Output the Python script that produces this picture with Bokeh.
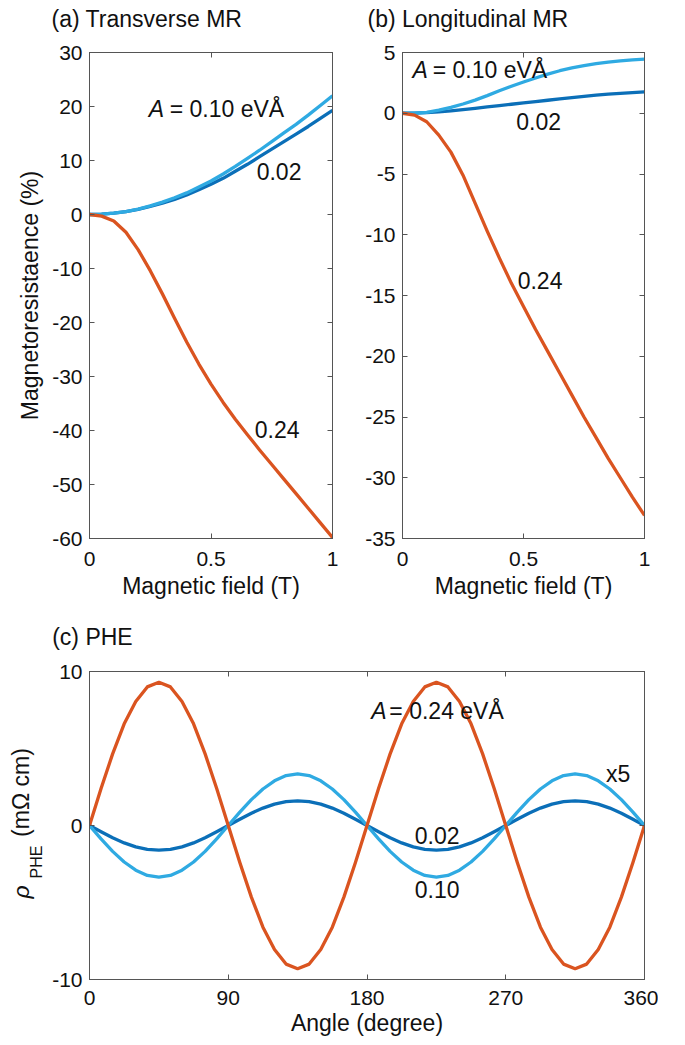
from bokeh.plotting import figure
from bokeh.models import Range1d, LinearAxis, FixedTicker, Label, CustomJSTickFormatter
from bokeh.layouts import column, row
from bokeh.embed import file_html
from bokeh.resources import INLINE

# ---------------- data ----------------
field = [0, 0.05, 0.1, 0.15, 0.2, 0.25, 0.3, 0.35, 0.4, 0.45, 0.5,
         0.55, 0.6, 0.65, 0.7, 0.75, 0.8, 0.85, 0.9, 0.95, 1.0]

# (a) transverse MR (%)
tmr_002 = [0, 0.05, 0.25, 0.55, 0.95, 1.5, 2.1, 2.8, 3.6, 4.6, 5.6,
           6.7, 8.0, 9.3, 10.7, 12.1, 13.5, 14.9, 16.3, 17.8, 19.3]
tmr_010 = [0, 0.05, 0.25, 0.55, 1.0, 1.6, 2.3, 3.1, 4.0, 5.1, 6.2,
           7.5, 8.9, 10.4, 11.9, 13.5, 15.1, 16.7, 18.4, 20.2, 22.0]
tmr_024 = [0, -0.3, -1.2, -3.3, -6.5, -10.4, -14.7, -19.2, -23.6, -27.7, -31.4,
           -34.8, -37.9, -40.8, -43.6, -46.3, -49.0, -51.7, -54.4, -57.1, -59.8]

# (b) longitudinal MR (%)
lmr_002 = [0, 0.01, 0.05, 0.12, 0.2, 0.3, 0.41, 0.52, 0.63, 0.74, 0.85,
           0.96, 1.07, 1.18, 1.29, 1.39, 1.49, 1.57, 1.64, 1.70, 1.76]
lmr_010 = [0, 0.01, 0.08, 0.25, 0.48, 0.76, 1.08, 1.45, 1.85, 2.22, 2.57,
           2.9, 3.22, 3.5, 3.73, 3.92, 4.08, 4.21, 4.31, 4.39, 4.45]
lmr_024 = [0, -0.15, -0.7, -1.8, -3.2, -5.1, -7.4, -9.7, -11.9, -14.0, -15.9,
           -17.8, -19.6, -21.4, -23.2, -25.0, -26.7, -28.4, -30.0, -31.6, -33.1]

# (c) planar Hall effect (mOhm cm)
angle = [0, 7.5, 15, 22.5, 30, 37.5, 45, 52.5, 60, 67.5, 75, 82.5,
         90, 97.5, 105, 112.5, 120, 127.5, 135, 142.5, 150, 157.5, 165, 172.5,
         180, 187.5, 195, 202.5, 210, 217.5, 225, 232.5, 240, 247.5, 255, 262.5,
         270, 277.5, 285, 292.5, 300, 307.5, 315, 322.5, 330, 337.5, 345, 352.5,
         360]
phe_024 = [0, 2.4, 4.65, 6.6, 8.05, 9.0, 9.3, 9.0, 8.05, 6.6, 4.65, 2.4,
           0, -2.4, -4.65, -6.6, -8.05, -9.0, -9.3, -9.0, -8.05, -6.6, -4.65, -2.4,
           0, 2.4, 4.65, 6.6, 8.05, 9.0, 9.3, 9.0, 8.05, 6.6, 4.65, 2.4,
           0, -2.4, -4.65, -6.6, -8.05, -9.0, -9.3, -9.0, -8.05, -6.6, -4.65, -2.4,
           0]
phe_010 = [0, -0.87, -1.68, -2.37, -2.9, -3.24, -3.35, -3.24, -2.9, -2.37, -1.68, -0.87,
           0, 0.87, 1.68, 2.37, 2.9, 3.24, 3.35, 3.24, 2.9, 2.37, 1.68, 0.87,
           0, -0.87, -1.68, -2.37, -2.9, -3.24, -3.35, -3.24, -2.9, -2.37, -1.68, -0.87,
           0, 0.87, 1.68, 2.37, 2.9, 3.24, 3.35, 3.24, 2.9, 2.37, 1.68, 0.87,
           0]
phe_002 = [0, -0.41, -0.8, -1.13, -1.39, -1.55, -1.6, -1.55, -1.39, -1.13, -0.8, -0.41,
           0, 0.41, 0.8, 1.13, 1.39, 1.55, 1.6, 1.55, 1.39, 1.13, 0.8, 0.41,
           0, -0.41, -0.8, -1.13, -1.39, -1.55, -1.6, -1.55, -1.39, -1.13, -0.8, -0.41,
           0, 0.41, 0.8, 1.13, 1.39, 1.55, 1.6, 1.55, 1.39, 1.13, 0.8, 0.41,
           0]

field_ticks = [0, 0.5, 1]
tmr_ticks = [-60, -50, -40, -30, -20, -10, 0, 10, 20, 30]
lmr_ticks = [-35, -30, -25, -20, -15, -10, -5, 0, 5]
angle_ticks = [0, 90, 180, 270, 360]
phe_ticks = [-10, 0, 10]

# ---------------- style ----------------
FONT = "Liberation Sans"
C_DARK = "#0B6FB8"
C_LIGHT = "#2FAAE2"
C_ORANGE = "#DA5420"
AX = "#555555"
TXT = "#111111"
LW = 3.3
FS_TICK = "21px"
FS_TEXT = "23px"
ROT = 1.5707963


def style_axis(ax, show_labels=True):
    ax.major_tick_in = 5
    ax.major_tick_out = 0
    ax.minor_tick_line_color = None
    ax.axis_line_color = AX
    ax.major_tick_line_color = AX
    ax.major_label_text_font = FONT
    ax.major_label_text_color = TXT
    ax.formatter = CustomJSTickFormatter(code="return String(tick);")
    if show_labels:
        ax.major_label_text_font_size = FS_TICK
    else:
        ax.major_label_text_font_size = "0px"
        ax.major_label_standoff = 0
    ax.axis_label_text_font = FONT
    ax.axis_label_text_font_size = FS_TEXT
    ax.axis_label_text_font_style = "normal"
    ax.axis_label_text_color = TXT


def make_fig(w, h, xr, yr, xt, yt, bl, br, bt, bb, xstand=13, xlstand=4):
    p = figure(width=w, height=h, x_range=Range1d(*xr), y_range=Range1d(*yr),
               output_backend="svg", toolbar_location=None, title=None,
               min_border_left=bl, min_border_right=br,
               min_border_top=bt, min_border_bottom=bb)
    p.grid.visible = False
    p.outline_line_color = AX
    xa = p.below[0]
    ya = p.left[0]
    xa.ticker = FixedTicker(ticks=xt)
    ya.ticker = FixedTicker(ticks=yt)
    style_axis(xa)
    style_axis(ya)
    xa.major_label_standoff = xstand
    ya.major_label_standoff = 7
    xa.axis_label_standoff = xlstand
    ya.axis_label_standoff = 6
    right = LinearAxis(ticker=FixedTicker(ticks=yt))
    style_axis(right, False)
    p.add_layout(right, "right")
    top = LinearAxis(ticker=FixedTicker(ticks=xt))
    style_axis(top, False)
    p.add_layout(top, "above")
    return p, xa, ya


def lab(p, x, y, text, size=FS_TEXT, style="normal", align="left", ang=0.0):
    # y is the vertical centre of the text
    p.add_layout(Label(x=x, y=y, text=text, text_font=FONT, text_font_size=size,
                       text_font_style=style, text_color=TXT, angle=ang,
                       text_baseline="middle", text_align=align))


def strip(w, h, yr=None):
    s = figure(width=w, height=h, x_range=Range1d(0, w),
               y_range=Range1d(*(yr if yr else (0, h))),
               output_backend="svg", toolbar_location=None, title=None,
               x_axis_location=None, y_axis_location=None,
               min_border_left=0, min_border_right=0, min_border_top=0,
               min_border_bottom=0)
    s.grid.visible = False
    s.outline_line_color = None
    return s


# ---------------- titles (a), (b) ----------------
top_strip = strip(658, 42)
lab(top_strip, 51, 23.7, "(a) Transverse MR")
lab(top_strip, 367, 23.7, "(b) Longitudinal MR")

# ---------------- (a) ----------------
pa, pa_x, pa_y = make_fig(340, 568, (0, 1), (-60, 30), field_ticks, tmr_ticks, 89, 8, 10, 72)
pa_x.axis_label = "Magnetic field (T)"
pa_y.axis_label = "Magnetoresistaence (%)"
pa.line(field, tmr_002, color=C_DARK, line_width=LW, line_join="round")
pa.line(field, tmr_010, color=C_LIGHT, line_width=LW, line_join="round")
pa.line(field, tmr_024, color=C_ORANGE, line_width=LW, line_join="round")
lab(pa, 0.244, 19.6, "A", style="italic")
lab(pa, 0.33, 19.6, "= 0.10 eVÅ")
lab(pa, 0.688, 7.9, "0.02")
lab(pa, 0.68, -39.8, "0.24")

# ---------------- (b) ----------------
pb, pb_x, pb_y = make_fig(318, 568, (0, 1), (-35, 5), field_ticks, lmr_ticks, 62, 14, 10, 72)
pb_x.axis_label = "Magnetic field (T)"
pb.line(field, lmr_002, color=C_DARK, line_width=LW, line_join="round")
pb.line(field, lmr_010, color=C_LIGHT, line_width=LW, line_join="round")
pb.line(field, lmr_024, color=C_ORANGE, line_width=LW, line_join="round")
lab(pb, 0.041, 3.54, "A", style="italic")
lab(pb, 0.125, 3.54, "= 0.10 eVÅ")
lab(pb, 0.47, -0.64, "0.02")
lab(pb, 0.476, -13.78, "0.24")

# ---------------- title (c) ----------------
c_strip = strip(658, 50)
lab(c_strip, 51.7, 23.5, "(c) PHE")

# ---------------- y label (c): frame aligned with panel (c), same y scale ----------------
yl_strip = strip(48, 385, yr=(-10, 10))
lab(yl_strip, 20.5, -4.32, "ρ", style="italic", align="center", ang=ROT)
lab(yl_strip, 36.1, -2.37, "PHE", size="16px", align="center", ang=ROT)
lab(yl_strip, 20.5, 2.14, "(mΩ cm)", align="center", ang=ROT)

# ---------------- (c) ----------------
pc, pc_x, pc_y = make_fig(610, 385, (0, 360), (-10, 10), angle_ticks, phe_ticks, 41, 14, 11, 66,
                          xstand=11, xlstand=2)
pc_x.axis_label = "Angle (degree)"
pc.line(angle, phe_002, color=C_DARK, line_width=LW, line_join="round")
pc.line(angle, phe_010, color=C_LIGHT, line_width=LW, line_join="round")
pc.line(angle, phe_024, color=C_ORANGE, line_width=LW, line_join="round")
lab(pc, 182.8, 7.42, "A", style="italic")
lab(pc, 194.5, 7.42, "= 0.24 eVÅ")
lab(pc, 335, 3.36, "x5")
lab(pc, 211, -0.67, "0.02")
lab(pc, 211, -4.13, "0.10")

layout = column(top_strip, row(pa, pb), c_strip, row(yl_strip, pc))
open("out.html", "w").write(file_html(layout, INLINE))
